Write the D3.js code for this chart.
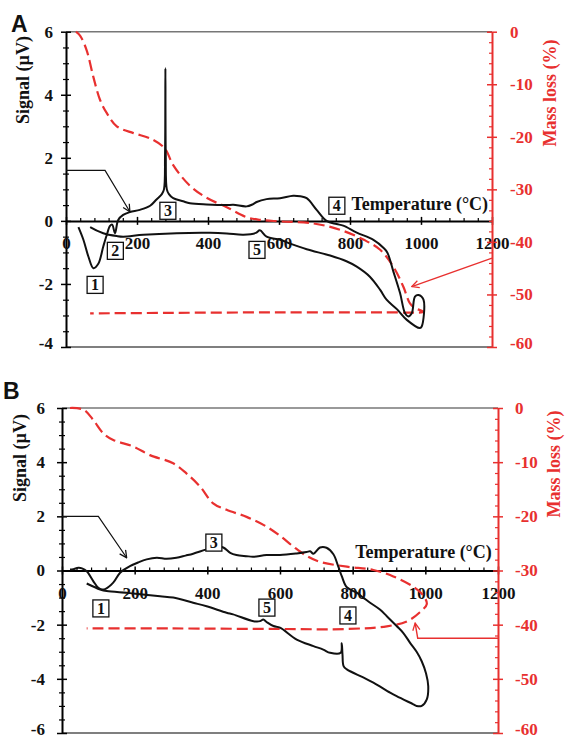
<!DOCTYPE html>
<html>
<head>
  <meta charset="utf-8">
  <title>TG-DTA signal and mass loss</title>
  <script src="https://d3js.org/d3.v7.min.js"></script>
  <style>
    body { margin: 0; background: #fff; }
    text { font-family: "Liberation Serif", "Times New Roman", serif; font-weight: bold; }
  </style>
</head>
<body>
  <svg id="chart" width="566" height="741"></svg>
  <script>
    // Axis ticks
    const tempTicks = [0, 200, 400, 600, 800, 1000, 1200];
    const massTicks = [0, -10, -20, -30, -40, -50, -60];
    const signalTicksA = [-4, -2, 0, 2, 4, 6];
    const signalTicksB = [-6, -4, -2, 0, 2, 4, 6];

    // Panel A: signal (uV) vs temperature, heating then cooling
    const signalA = [
      [35, -0.2], [49, -0.6], [63, -1.13], [77, -1.5], [91, -1.36], [105, -0.81], [115, -0.44],
      [124, -0.16], [130, -0.12], [138, -0.39], [147, 0.03], [161, 0.19], [180, 0.28], [208, 0.35],
      [237, 0.48], [255, 0.68], [270, 0.85], [276, 1.0], [279, 2.1], [280, 4.84], [281, 2.1],
      [284, 1.0], [290, 0.85], [302, 0.72], [330, 0.62], [349, 0.56], [396, 0.52], [453, 0.5],
      [471, 0.51], [509, 0.46], [525, 0.52], [537, 0.6], [565, 0.69], [603, 0.72], [640, 0.8],
      [660, 0.78], [678, 0.72], [706, 0.35], [734, 0.0], [762, -0.1], [781, -0.15], [819, -0.37],
      [866, -0.6], [894, -0.85], [905, -1.0], [922, -1.6], [941, -2.29], [955, -2.93], [964, -3.03],
      [974, -2.93], [983, -2.4], [993, -2.35], [1007, -2.5], [1002, -3.35], [997, -3.4],
      [960, -3.14], [932, -2.8], [903, -2.5], [885, -2.19], [856, -1.77], [819, -1.45], [790, -1.28],
      [744, -1.1], [678, -0.9], [631, -0.72], [603, -0.6], [565, -0.5], [546, -0.3], [535, -0.38],
      [500, -0.44], [453, -0.4], [406, -0.38], [312, -0.39], [218, -0.44], [161, -0.5], [143, -0.48],
      [105, -0.39], [68, -0.2]
    ];
    // Panel A: mass loss (%) vs temperature
    const massA = [
      [28, 0], [40, -0.8], [58, -3.5], [77, -8.6], [96, -13], [115, -15.5], [143, -18], [190, -19.3],
      [237, -20.3], [274, -21.9], [284, -22.8], [302, -25.4], [349, -29.3], [396, -31.6], [453, -33.4],
      [509, -35.3], [546, -35.8], [603, -36.1], [698, -36.5], [772, -37.7], [839, -39.6], [885, -41.5],
      [922, -44.7], [950, -48.5], [969, -51.7], [983, -52.6], [1007, -53.3], [900, -53.4], [600, -53.4],
      [300, -53.5], [68, -53.6]
    ];

    // Panel B
    const signalB = [
      [22, 0.04], [31, 0.05], [45, 0.1], [55, 0.08], [68, -0.03], [86, -0.39], [100, -0.64], [110, -0.7],
      [120, -0.68], [141, -0.45], [160, -0.08], [187, 0.16], [210, 0.3], [233, 0.41], [261, 0.47],
      [288, 0.43], [315, 0.47], [340, 0.55], [361, 0.62], [398, 0.78], [426, 0.88], [444, 0.85],
      [463, 0.65], [480, 0.57], [508, 0.53], [526, 0.51], [563, 0.57], [600, 0.57], [646, 0.63],
      [673, 0.68], [683, 0.71], [692, 0.62], [710, 0.85], [728, 0.84], [747, 0.6], [760, 0.16],
      [770, -0.21], [784, -0.62], [811, -0.82], [829, -1.0], [848, -1.19], [875, -1.44], [894, -1.69],
      [921, -2.05], [939, -2.3], [958, -2.67], [976, -3.0], [990, -3.35], [1002, -3.8], [1008, -4.27],
      [1004, -4.76], [990, -5.0], [976, -5.0], [967, -4.94], [921, -4.64], [903, -4.51], [857, -4.14],
      [829, -3.95], [784, -3.65], [775, -3.53], [772, -3.1], [770, -2.69], [767, -3.04], [738, -3.04],
      [719, -2.92], [692, -2.79], [646, -2.55], [600, -2.11], [582, -2.05], [563, -1.9], [554, -1.81],
      [545, -1.87], [527, -1.87], [471, -1.62], [453, -1.56], [398, -1.32], [361, -1.19], [306, -1.0],
      [270, -0.95], [196, -0.85], [178, -0.82], [123, -0.76], [105, -0.7], [68, -0.48]
    ];
    const massB = [
      [22, 0], [59, -0.3], [86, -2.2], [114, -4.7], [141, -5.9], [196, -7.1], [242, -8.7], [306, -10.2],
      [343, -12.1], [380, -14.5], [416, -17.6], [453, -18.8], [508, -20.1], [563, -21.9], [600, -23.6],
      [637, -25.6], [673, -27.3], [710, -28.4], [784, -29.3], [857, -29.9], [912, -31.1], [967, -33],
      [994, -34.6], [1004, -36.2], [985, -37.7], [949, -39.4], [894, -40.3], [784, -40.8], [600, -40.8],
      [300, -40.7], [68, -40.7]
    ];

    // numbered event boxes (label, temperature, signal)
    const eventsA = [["1", 82, -2.03], ["2", 139, -0.95], ["3", 287, 0.32], ["4", 763, 0.48], ["5", 538, -0.92]];
    const eventsB = [["1", 107, -1.4], ["3", 418, 1.03], ["4", 787, -1.66], ["5", 564, -1.37]];

    // arrows pointing from axes to their curves
    const signalArrowA = [[0, 1.6], [110, 1.6], [180, 0.29]];
    const massArrowA = [[1200, -43.1], [974, -48.5]];
    const signalArrowB = [[0, 2], [100, 2], [178, 0.47]];
    const massArrowB = [[1200, -42.5], [979, -42.5], [972, -39.7]];

    const red = "#e8302f";
    const fmt = d => String(d).replace("\u2212", "-");
    const svg = d3.select("#chart");

    const defs = svg.append("defs");
    [["headBlack", "#111"], ["headRed", red]].forEach(([id, c]) => {
      defs.append("marker")
        .attr("id", id)
        .attr("viewBox", "0 0 10 10")
        .attr("refX", 9).attr("refY", 5)
        .attr("markerWidth", 9).attr("markerHeight", 9)
        .attr("markerUnits", "userSpaceOnUse")
        .attr("orient", "auto")
        .append("path")
        .attr("d", "M1,1 L9,5 L1,9")
        .attr("fill", "none")
        .attr("stroke", c)
        .attr("stroke-width", 1.4);
    });

    function drawPanel(p) {
      const x = d3.scaleLinear().domain([0, 1200]).range([p.left, p.right]);
      const y = d3.scaleLinear().domain(d3.extent(p.signalTicks)).range([p.bottom, p.top]);
      const y2 = d3.scaleLinear().domain([-60, 0]).range([p.bottom, p.top]);
      const g = svg.append("g");

      // frame top and bottom
      g.append("line").attr("x1", p.left).attr("x2", p.right).attr("y1", p.top).attr("y2", p.top)
        .attr("stroke", "#777").attr("stroke-width", 1.5);
      g.append("line").attr("x1", p.left).attr("x2", p.right).attr("y1", p.bottom).attr("y2", p.bottom)
        .attr("stroke", "#555").attr("stroke-width", 1.5);

      // left axis
      const sMin = d3.min(p.signalTicks), sMax = d3.max(p.signalTicks);
      const minorS = d3.range(sMin, sMax + 0.01, 0.5).filter(v => !p.signalTicks.includes(v));
      g.append("g").attr("transform", `translate(${p.left},0)`)
        .call(d3.axisLeft(y).tickValues(minorS).tickSize(3).tickFormat(""))
        .call(a => a.select(".domain").remove())
        .call(a => a.selectAll(".tick line").attr("x1", 3).attr("stroke-width", 1.2));
      const la = g.append("g").attr("transform", `translate(${p.left},0)`)
        .call(d3.axisLeft(y).tickValues(p.signalTicks).tickSize(5).tickSizeOuter(0)
          .tickPadding(p.leftPad).tickFormat(fmt));
      la.selectAll(".tick line").attr("x1", 5).attr("stroke-width", 1.5);
      la.select(".domain").attr("stroke-width", 2);
      la.selectAll("text").style("font-size", "17px").attr("fill", "#111")
        .attr("dy", d => d === sMin ? "0.1em" : "0.32em");

      // temperature axis along signal = 0
      const minorT = d3.range(0, 1201, 40).filter(v => v % 200 !== 0);
      g.append("g").attr("transform", `translate(0,${y(0)})`)
        .call(d3.axisBottom(x).tickValues(minorT).tickSize(-3).tickFormat(""))
        .call(a => a.select(".domain").remove())
        .call(a => a.selectAll(".tick line").attr("stroke-width", 1.2));
      const ba = g.append("g").attr("transform", `translate(0,${y(0)})`)
        .call(d3.axisBottom(x).tickValues(tempTicks).tickSize(4).tickSizeOuter(0)
          .tickPadding(12).tickFormat(fmt));
      ba.selectAll(".tick line").attr("y1", -4).attr("stroke-width", 1.5);
      ba.select(".domain").attr("stroke-width", 2);
      ba.selectAll("text").style("font-size", "17px").attr("fill", "#111");

      // right axis (mass loss)
      const minorM = d3.range(-60, 1, 2).filter(v => v % 10 !== 0);
      g.append("g").attr("transform", `translate(${p.right},0)`)
        .call(d3.axisRight(y2).tickValues(minorM).tickSize(-3).tickFormat(""))
        .call(a => a.select(".domain").remove())
        .call(a => a.selectAll(".tick line").attr("stroke", red).attr("stroke-width", 1.2));
      const ra = g.append("g").attr("transform", `translate(${p.right},0)`)
        .call(d3.axisRight(y2).tickValues(massTicks).tickSize(5).tickSizeOuter(0)
          .tickPadding(p.rightPad).tickFormat(fmt));
      ra.selectAll(".tick line").attr("x1", -5).attr("stroke", red).attr("stroke-width", 1.5);
      ra.select(".domain").attr("stroke", red).attr("stroke-width", 2);
      ra.selectAll("text").style("font-size", "17px").attr("fill", red)
        .attr("dy", d => d === -60 ? "0.1em" : "0.32em");

      // titles
      g.append("text").text(p.name)
        .attr("x", p.nameX).attr("y", p.nameY)
        .style("font-family", "'Liberation Sans', Arial, sans-serif")
        .style("font-size", "23px").attr("fill", "#111");
      g.append("text").text("Signal (µV)")
        .attr("transform", `translate(${p.sigTitleX},${p.sigTitleY}) rotate(-90)`)
        .attr("text-anchor", "middle").style("font-size", "18px").attr("fill", "#111");
      g.append("text").text("Mass loss (%)")
        .attr("transform", `translate(${p.massTitleX},${p.massTitleY}) rotate(-90)`)
        .attr("text-anchor", "middle").style("font-size", "18px").attr("fill", red);
      g.append("text").text("Temperature (°C)")
        .attr("x", x(p.tempLabel[0])).attr("y", y(p.tempLabel[1]))
        .attr("text-anchor", "end").style("font-size", "18px").attr("fill", "#111");

      // curves
      const sigLine = d3.line().x(d => x(d[0])).y(d => y(d[1])).curve(d3.curveCatmullRom.alpha(0.5));
      const massLine = d3.line().x(d => x(d[0])).y(d => y2(d[1])).curve(d3.curveCatmullRom.alpha(0.5));
      g.append("path").datum(p.mass).attr("d", massLine)
        .attr("fill", "none").attr("stroke", red).attr("stroke-width", 2.2)
        .attr("stroke-dasharray", "11,5");
      g.append("path").datum(p.signal).attr("d", sigLine)
        .attr("fill", "none").attr("stroke", "#111").attr("stroke-width", 2)
        .attr("stroke-linejoin", "round");

      // arrows
      g.append("path").datum(p.signalArrow)
        .attr("d", d3.line().x(d => x(d[0])).y(d => y(d[1])))
        .attr("fill", "none").attr("stroke", "#111").attr("stroke-width", 1.2)
        .attr("marker-end", "url(#headBlack)");
      g.append("path").datum(p.massArrow)
        .attr("d", d3.line().x(d => x(d[0])).y(d => y2(d[1])))
        .attr("fill", "none").attr("stroke", red).attr("stroke-width", 1.4)
        .attr("marker-end", "url(#headRed)");

      // numbered boxes
      const ev = g.selectAll(".event").data(p.events).join("g")
        .attr("class", "event")
        .attr("transform", d => `translate(${x(d[1])},${y(d[2])})`);
      ev.append("rect").attr("x", -8).attr("y", -8.5).attr("width", 16).attr("height", 17)
        .attr("fill", "#fff").attr("stroke", "#111").attr("stroke-width", 1.3);
      ev.append("text").text(d => d[0])
        .attr("text-anchor", "middle").attr("y", 5.5)
        .style("font-size", "16px").attr("fill", "#111");
    }

    drawPanel({
      name: "A", nameX: 11, nameY: 32,
      left: 66, right: 492, top: 31.7, bottom: 347,
      signalTicks: signalTicksA, leftPad: 8, rightPad: 13,
      sigTitleX: 29, sigTitleY: 80, massTitleX: 556, massTitleY: 93,
      tempLabel: [1189, 0.35],
      signal: signalA, mass: massA, events: eventsA,
      signalArrow: signalArrowA, massArrow: massArrowA
    });
    drawPanel({
      name: "B", nameX: 3, nameY: 399,
      left: 62, right: 498, top: 408, bottom: 733,
      signalTicks: signalTicksB, leftPad: 12, rightPad: 12,
      sigTitleX: 26, sigTitleY: 458, massTitleX: 560, massTitleY: 464,
      tempLabel: [1183, 0.48],
      signal: signalB, mass: massB, events: eventsB,
      signalArrow: signalArrowB, massArrow: massArrowB
    });
  </script>
</body>
</html>
